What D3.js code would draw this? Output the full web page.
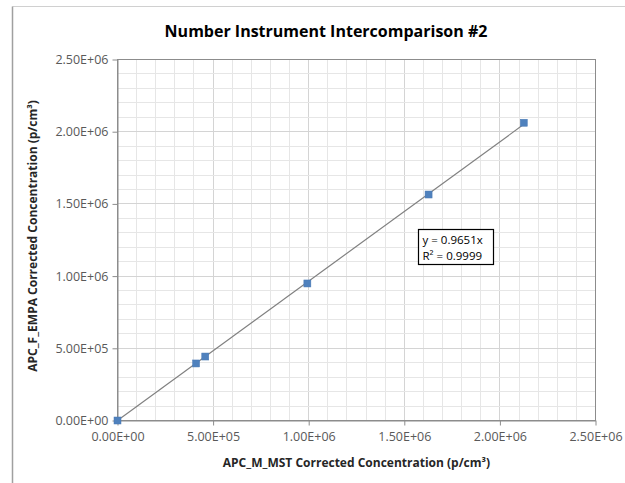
<!DOCTYPE html>
<html lang="en">
<head>
<meta charset="UTF-8">
<title>Number Instrument Intercomparison #2</title>
<script src="https://cdn.jsdelivr.net/npm/d3@7"></script>
<style>
	html,body{margin:0;padding:0;background:#fff;}
	svg{display:block;font-family:"Open Sans","Liberation Sans",sans-serif;}
</style>
</head>
<body>
<svg id="svg" width="625" height="483"></svg>
<script>
// data
var xVals = [0, 411000, 459000, 993000, 1627000, 2125000];
var yVals = [0, 395000, 443000, 949000, 1565000, 2062000];
var slope = 0.9651;
var rSquared = 0.9999;
var xTicks = [0, 500000, 1000000, 1500000, 2000000, 2500000];
var yTicks = [0, 500000, 1000000, 1500000, 2000000, 2500000];
var minorStep = 100000;

(function(){
var svg = d3.select("#svg");
var pl = 117.5, pr = 595.5, pt = 59.5, pb = 420.5;

var x = d3.scaleLinear().domain([0, 2500000]).range([pl, pr]);
var y = d3.scaleLinear().domain([0, 2500000]).range([pb, pt]);
var fmt = function(v){ return v.toExponential(2).toUpperCase().replace(/E([+-])(\d)$/, "E$10$2"); };

// outer chart frame (only top and left are inside the picture)
svg.append("line").attr("x1",12.5).attr("x2",625).attr("y1",6.5).attr("y2",6.5)
	.attr("stroke","#d0d0d0");
svg.append("line").attr("x1",12.5).attr("x2",12.5).attr("y1",6.5).attr("y2",483)
	.attr("stroke","#a0a0a0").attr("stroke-width",1.5);

// grid
var minor = d3.range(0, 2500001, minorStep);
svg.append("g").selectAll("line").data(minor).enter().append("line")
	.attr("x1",d=>Math.round(x(d)-0.5)+0.5).attr("x2",d=>Math.round(x(d)-0.5)+0.5)
	.attr("y1",pt).attr("y2",pb)
	.attr("stroke",d=>d%500000===0?"#d4d4d4":"#e6e6e6");
svg.append("g").selectAll("line").data(minor).enter().append("line")
	.attr("y1",d=>Math.round(y(d)-0.5)+0.5).attr("y2",d=>Math.round(y(d)-0.5)+0.5)
	.attr("x1",pl).attr("x2",pr)
	.attr("stroke",d=>d%500000===0?"#d4d4d4":"#e6e6e6");

// plot border
svg.append("rect").attr("x",pl).attr("y",pt).attr("width",pr-pl).attr("height",pb-pt)
	.attr("fill","none").attr("stroke","#8c8c8c");

// axes
var xAxis = svg.append("g").attr("transform","translate(0,"+pb+")")
	.call(d3.axisBottom(x).tickValues(xTicks).tickFormat(fmt).tickSize(5).tickSizeOuter(0));
var yAxis = svg.append("g").attr("transform","translate("+pl+",0)")
	.call(d3.axisLeft(y).tickValues(yTicks).tickFormat(fmt).tickSize(5).tickSizeOuter(0));
[xAxis, yAxis].forEach(function(a){
	a.select(".domain").attr("stroke","#8c8c8c");
	a.selectAll(".tick line").attr("stroke","#8c8c8c");
	a.selectAll(".tick text").attr("fill","#595959").style("font-size","12.5px")
		.style("font-family","'Open Sans','Liberation Sans',sans-serif");
});
xAxis.selectAll(".tick text").attr("y",12);
yAxis.selectAll(".tick text").attr("x",-9);

// trendline over the data range
var xMax = d3.max(xVals);
svg.append("line")
	.attr("x1",x(0)).attr("y1",y(0))
	.attr("x2",x(xMax)).attr("y2",y(slope*xMax))
	.attr("stroke","#808080").attr("stroke-width",1.2);

// markers
var pts = xVals.map((d,i)=>({x:d, y:yVals[i]}));
svg.append("g").selectAll("rect").data(pts).enter().append("rect")
	.attr("x",d=>x(d.x)-3.5).attr("y",d=>y(d.y)-3.5)
	.attr("width",7).attr("height",7)
	.attr("fill","#4f81bd").attr("stroke","#4a7ab5").attr("stroke-width",0.5);

// equation box
var bx = 418.5, by = 229.5;
svg.append("rect").attr("x",bx).attr("y",by).attr("width",75).attr("height",35)
	.attr("fill","#fff").attr("stroke","#000").attr("stroke-width",1.2);
svg.append("text").attr("x",bx+4).attr("y",by+14).style("font-size","11.5px").attr("fill","#000")
	.text("y = " + slope + "x");
svg.append("text").attr("x",bx+4).attr("y",by+30).style("font-size","11.5px").attr("fill","#000")
	.text("R\u00B2 = " + rSquared);

// title
svg.append("text").attr("x",326).attr("y",37).attr("text-anchor","middle")
	.style("font-size","16px").style("font-weight","bold").attr("fill","#000")
	.text("Number Instrument Intercomparison #2");

// axis titles
svg.append("text").attr("x",(pl+pr)/2).attr("y",467).attr("text-anchor","middle")
	.style("font-size","12px").style("font-weight","bold").attr("fill","#262626")
	.text("APC_M_MST Corrected Concentration (p/cm\u00B3)");
svg.append("text").attr("transform","translate(37,"+((pt+pb)/2-4)+") rotate(-90)")
	.attr("text-anchor","middle")
	.style("font-size","12px").style("font-weight","bold").attr("fill","#262626")
	.text("APC_F_EMPA Corrected Concentration (p/cm\u00B3)");
})();
</script>
</body>
</html>
